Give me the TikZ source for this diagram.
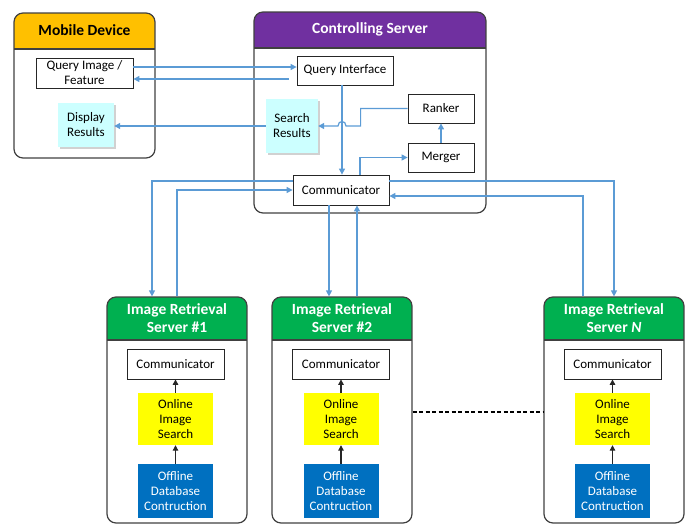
\documentclass[tikz,border=0pt]{standalone}
\usepackage{fontspec}
\setmainfont{Carlito}
\usetikzlibrary{arrows.meta,shadows,calc}
\definecolor{panelline}{HTML}{404040}
\definecolor{mdorange}{HTML}{FFC000}
\definecolor{cspurple}{HTML}{7030A0}
\definecolor{irsgreen}{HTML}{00B050}
\definecolor{oisyellow}{HTML}{FFFF00}
\definecolor{odcblue}{HTML}{0070C0}
\definecolor{rescyan}{HTML}{CCFFFF}
\definecolor{arrowblue}{HTML}{5B9BD5}
\newcommand{\boxfont}{\fontsize{13}{15}\selectfont}
\newcommand{\headfont}{\fontsize{15.5}{18}\selectfont\bfseries}
\begin{document}
\begin{tikzpicture}[x=1pt,y=-1pt,
  panel/.style n args={4}{draw=panelline, line width=1.2pt, rounded corners=9pt,
    minimum width=#1, minimum height=#2, inner sep=0pt,
    path picture={\fill[#4, sharp corners] (path picture bounding box.north west) rectangle ([yshift=-#3]path picture bounding box.north east);
      \draw[panelline, line width=1.1pt, sharp corners] ([yshift=-#3]path picture bounding box.north west) -- ([yshift=-#3]path picture bounding box.north east);}},
  title/.style={font=\headfont, align=center, inner sep=0pt},
  wbox/.style={draw=black!85, line width=0.8pt, fill=white, font=\boxfont, align=center, inner sep=0pt},
  cbox/.style={fill=rescyan, font=\boxfont, align=center, inner sep=0pt,
    drop shadow={shadow xshift=2pt, shadow yshift=-2pt, opacity=0.3, fill=black!60}},
  ybox/.style={fill=oisyellow, font=\boxfont, align=center, inner sep=0pt, minimum width=75, minimum height=52},
  bbox/.style={fill=odcblue, text=white, font=\boxfont, align=center, inner sep=0pt, minimum width=75, minimum height=54},
  arr/.style={draw=arrowblue, line width=1.2pt, -{Triangle[length=6pt,width=6pt]}},
  barr/.style={draw=black!85, line width=1.1pt, -{Triangle[length=5.5pt,width=5.5pt]}},
  dotline/.style={draw=black, line width=2.5pt, dash pattern=on 4pt off 2.5pt}
]
\useasboundingbox (0,0) rectangle (691,525);

% ---- panels
\node[panel={141}{145}{36pt}{mdorange}] (md) at (84.5,85.5) {};
\node[panel={232}{201}{36pt}{cspurple}] (cs) at (370,112.5) {};
\node[panel={140}{226}{43pt}{irsgreen}] (irs1) at (177,410) {};
\node[panel={140}{226}{43pt}{irsgreen}] (irs2) at (342,410) {};
\node[panel={140}{226}{43pt}{irsgreen}] (irsN) at (614,410) {};

% ---- titles
\node[title] (mdt) at ([yshift=-18pt]md.north) {Mobile Device};
\node[title, text=white] (cst) at ([yshift=-18pt]cs.north) {Controlling Server};
\node[title, text=white] (irs1t) at ([yshift=-21.5pt]irs1.north) {Image Retrieval\\Server \#1};
\node[title, text=white] (irs2t) at ([yshift=-21.5pt]irs2.north) {Image Retrieval\\Server \#2};
\node[title, text=white] (irsNt) at ([yshift=-21.5pt]irsN.north) {Image Retrieval\\Server \textit{N}};

% ---- mobile device
\node[wbox, minimum width=97, minimum height=30] (qimg) at (84.5,73) {Query Image /\\Feature};
\node[cbox, minimum width=56, minimum height=44] (dr) at (86,125) {Display\\Results};

% ---- controlling server
\node[wbox, minimum width=96, minimum height=29] (qi) at (345,70.5) {Query Interface};
\node[cbox, minimum width=52, minimum height=54] (sr) at (292,126) {Search\\Results};
\node[wbox, minimum width=66, minimum height=29] (rk) at (441,108.5) {Ranker};
\node[wbox, minimum width=66, minimum height=29] (mg) at (441,157.5) {Merger};
\node[wbox, minimum width=96, minimum height=30] (cc) at (341,190) {Communicator};

% ---- image retrieval servers
\foreach \s/\x in {1/175.5, 2/341, N/612.5}{
  \node[wbox, minimum width=97, minimum height=30] (c\s) at (\x,364) {Communicator};
  \node[ybox] (o\s) at (\x,419) {Online\\Image\\Search};
  \node[bbox] (d\s) at (\x,491) {Offline\\Database\\Contruction};
  \draw[barr] (o\s.north) -- (c\s.south);
  \draw[barr] (d\s.north) -- (o\s.south);
}

% ---- connectors: mobile <-> controlling
\draw[arr] ([yshift=6pt]qimg.east) -- ([yshift=6pt]qimg.east -| qi.west);
\draw[arr] ([xshift=-8pt,yshift=-6pt]qimg.east -| qi.west) -- ([yshift=-6pt]qimg.east);
\draw[arr] (sr.west) -- (sr.west -| dr.east);

% ---- inside controlling server
\coordinate (vline) at ([xshift=-3pt]qi.south);
\draw[arr] (vline) -- (vline |- cc.north);
\coordinate (rkbend) at ([xshift=-47pt]rk.west);
\coordinate (hop) at (vline |- sr.east);
\draw[arr] (rk.west) -- (rkbend) -- (rkbend |- sr.east) -- ([xshift=4pt]hop)
  .. controls ([xshift=4pt,yshift=6pt]hop) and ([xshift=-4pt,yshift=6pt]hop) .. ([xshift=-4pt]hop) -- (sr.east);
\draw[arr] ([xshift=19pt]cc.north) |- (mg.west);
\draw[arr] (mg.north) -- (rk.south);

% ---- controlling <-> image retrieval servers
\draw[arr] ([yshift=9pt]cc.west) -| ([xshift=-25pt]irs1.north);
\draw[arr] (irs1.north) |- (cc.west);
\draw[arr] ([xshift=-12pt]cc.south) -- ([xshift=-12pt]cc.south |- irs2.north);
\draw[arr] ([xshift=15pt]irs2.north) -- ([xshift=15pt]irs2.north |- cc.south);
\draw[arr] ([yshift=9pt]cc.east) -| (irsN.north);
\draw[arr] ([xshift=-31pt]irsN.north) |- ([yshift=-6pt]cc.east);

% ---- dotted link
\draw[dotline] ([yshift=-2pt]irs2.east) -- ([yshift=-2pt]irsN.west);
\end{tikzpicture}
\end{document}
